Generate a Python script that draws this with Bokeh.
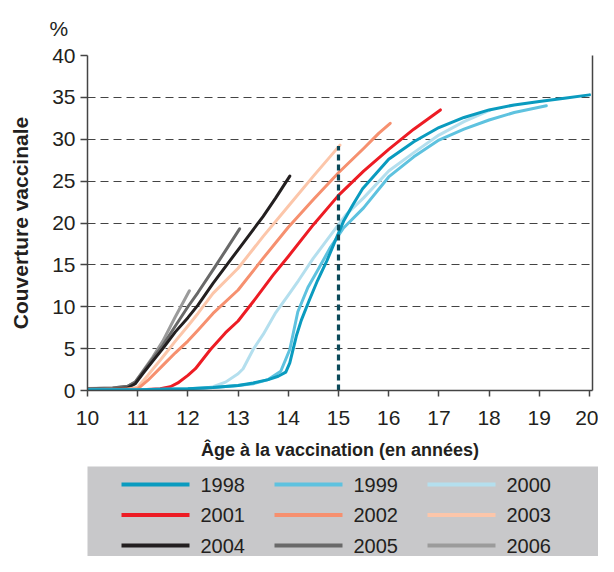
from bokeh.plotting import figure
from bokeh.models import LinearAxis, Title, Range1d, FixedTicker, Spacer
from bokeh.layouts import column, row
from bokeh.embed import file_html
from bokeh.resources import INLINE
from bokeh.core.properties import value

# ---------------- data ----------------
years = ["1998", "1999", "2000", "2001", "2002", "2003", "2004", "2005", "2006"]
colors = ["#0a9bbf", "#5ec2df", "#b4dfee", "#ed1c24", "#f6906f",
          "#fcc6aa", "#231f20", "#696969", "#9b9b9b"]

age_1998 = [10, 11, 12, 12.5, 13.0, 13.3, 13.6, 13.8, 13.95, 14.03, 14.16, 14.26, 14.42,
            14.58, 14.77, 14.93, 15.1, 15.29, 15.48, 16.0, 16.5, 17.0, 17.5, 18.0, 18.5,
            19.0, 19.5, 20.0]
cov_1998 = [0.1, 0.1, 0.2, 0.35, 0.6, 0.9, 1.3, 1.7, 2.2, 3.3, 6.5, 8.4, 10.8,
            13.1, 15.5, 17.8, 20.2, 22.2, 24.1, 27.6, 29.7, 31.4, 32.6, 33.5, 34.1,
            34.5, 34.9, 35.3]

age_1999 = [10, 11, 12, 12.5, 13.0, 13.3, 13.6, 13.85, 14.03, 14.19, 14.39, 14.58,
            14.84, 15.1, 15.5, 16.0, 16.5, 17.0, 17.5, 18.0, 18.5, 19.14]
cov_1999 = [0.1, 0.1, 0.2, 0.35, 0.6, 0.8, 1.3, 2.3, 4.9, 9.4, 12.3, 14.3,
            17.1, 19.4, 21.8, 25.5, 27.9, 29.9, 31.2, 32.3, 33.2, 34.0]

age_2000 = [10, 12.0, 12.3, 12.5, 12.75, 13.0, 13.1, 13.3, 13.5, 13.75, 14.0, 14.2,
            14.5, 14.85, 15.15, 15.5, 16.0, 16.5, 17.0, 17.5, 18.03]
cov_2000 = [0.0, 0.1, 0.25, 0.45, 1.0, 2.0, 2.6, 4.9, 6.7, 9.3, 11.4, 13.1,
            15.8, 18.6, 21.0, 23.0, 26.2, 28.4, 30.5, 32.1, 33.5]

age_2001 = [10, 11.0, 11.45, 11.65, 11.8, 12.0, 12.15, 12.45, 12.75, 13.0, 13.35, 13.7,
            14.0, 14.5, 15.0, 15.5, 16.0, 16.5, 17.03]
cov_2001 = [0.0, 0.05, 0.2, 0.45, 0.9, 1.8, 2.6, 4.9, 6.9, 8.3, 11.0, 13.8,
            16.0, 19.8, 23.3, 26.2, 28.8, 31.2, 33.5]

age_2002 = [10, 11.0, 11.2, 11.5, 11.75, 12.0, 12.2, 12.5, 13.0, 13.5, 14.0, 14.5,
            15.0, 15.5, 15.8, 16.03]
cov_2002 = [0.1, 0.2, 1.2, 3.0, 4.5, 5.9, 7.2, 9.2, 12.0, 15.8, 19.5, 22.8,
            26.0, 28.9, 30.7, 31.9]

age_2003 = [10, 10.8, 11.0, 11.2, 11.5, 11.75, 12.0, 12.2, 12.5, 13.0, 13.5, 14.0,
            14.5, 15.03]
cov_2003 = [0.1, 0.15, 0.4, 1.8, 4.0, 5.9, 7.7, 9.2, 11.6, 14.6, 18.4, 22.0,
            25.6, 29.3]

age_2004 = [10, 10.5, 10.8, 10.95, 11.1, 11.3, 11.5, 11.75, 12.0, 12.2, 12.5, 13.0,
            13.5, 13.75, 14.03]
cov_2004 = [0.1, 0.15, 0.3, 0.8, 2.0, 3.5, 5.0, 7.0, 8.7, 10.2, 12.8, 16.8,
            20.8, 23.0, 25.6]

age_2005 = [10, 10.5, 10.8, 10.95, 11.1, 11.3, 11.5, 11.75, 12.0, 12.2, 12.5, 12.75, 13.03]
cov_2005 = [0.2, 0.3, 0.5, 1.0, 2.2, 3.8, 5.4, 7.7, 10.0, 11.7, 14.4, 16.7, 19.3]

age_2006 = [10, 10.5, 10.8, 10.95, 11.1, 11.3, 11.5, 11.75, 12.03]
cov_2006 = [0.25, 0.3, 0.5, 1.0, 2.3, 4.0, 5.9, 8.8, 11.9]

ages = [age_1998, age_1999, age_2000, age_2001, age_2002, age_2003, age_2004, age_2005, age_2006]
covs = [cov_1998, cov_1999, cov_2000, cov_2001, cov_2002, cov_2003, cov_2004, cov_2005, cov_2006]

x_ticks = list(range(10, 21))
y_ticks = list(range(0, 41, 5))
marker_age = 15
marker_top = 29.2

x_title = "Âge à la vaccination (en années)"
y_title = "Couverture vaccinale"
unit_text = "%"

# ---------------- style ----------------
FONT = "'Liberation Sans', Arial, sans-serif"
TXT = "#231f20"
AX = "#444444"

p = figure(width=598, height=466, x_range=Range1d(10, 20.06), y_range=Range1d(0, 40),
           output_backend="svg", toolbar_location=None,
           min_border_left=87, min_border_right=6, min_border_top=55, min_border_bottom=76)
p.outline_line_color = None
p.xgrid.grid_line_color = None
p.ygrid.ticker = FixedTicker(ticks=y_ticks)
p.ygrid.grid_line_color = "#444444"
p.ygrid.grid_line_dash = "8 5"
p.ygrid.grid_line_width = 1.2

p.xaxis.ticker = FixedTicker(ticks=x_ticks)
p.yaxis.ticker = FixedTicker(ticks=y_ticks)
for ax in (p.xaxis[0], p.yaxis[0]):
    ax.axis_line_color = AX
    ax.axis_line_width = 1.5
    ax.major_tick_line_color = AX
    ax.major_tick_line_width = 1.5
    ax.major_tick_in = 0
    ax.minor_tick_line_color = None
    ax.major_label_text_font = FONT
    ax.major_label_text_font_size = "21px"
    ax.major_label_text_color = TXT
    ax.axis_label_text_font = FONT
    ax.axis_label_text_font_style = "bold"
    ax.axis_label_text_color = TXT

p.yaxis.major_tick_out = 7
p.yaxis.major_label_standoff = 5
p.yaxis.axis_label = y_title
p.yaxis.axis_label_text_font_size = "21px"
p.yaxis.axis_label_standoff = 17
p.xaxis.major_tick_out = 6
p.xaxis.major_label_standoff = 14
p.xaxis.axis_label = x_title
p.xaxis.axis_label_text_font_size = "18px"
p.xaxis.axis_label_standoff = 12

right = LinearAxis(ticker=FixedTicker(ticks=[]), axis_line_color=AX, axis_line_width=1.5,
                   major_tick_line_color=None, minor_tick_line_color=None,
                   major_label_text_font_size="0px", major_label_standoff=0)
p.add_layout(right, "right")

p.add_layout(Title(text=unit_text, align="left", offset=-38, standoff=27,
                   vertical_align="top",
                   text_font=FONT, text_font_size="21px", text_color=TXT,
                   text_font_style="normal"), "above")

for i in reversed(range(len(years))):
    p.line(ages[i], covs[i], line_color=colors[i], line_width=3,
           line_join="round", line_cap="round")

p.segment(x0=[marker_age], y0=[0], x1=[marker_age], y1=[marker_top],
          line_color="#0c4a5a", line_width=3.2, line_dash="6 4")

# ---------------- legend panel ----------------
LG_W, LG_H = 511, 90
lg = figure(width=LG_W, height=LG_H, x_range=Range1d(0, LG_W), y_range=Range1d(LG_H, 0),
            output_backend="svg", toolbar_location=None, min_border=0,
            x_axis_type=None, y_axis_type=None)
lg.grid.grid_line_color = None
lg.outline_line_color = None
lg.background_fill_color = "#c8c8ca"
lg.border_fill_color = "#c8c8ca"

col_pitch, row_pitch = 153, 30.5
gx0, glen, tx0, ry0 = 34, 68, 113, 18
for i, yr in enumerate(years):
    c, r = i % 3, i // 3
    xs = gx0 + c * col_pitch
    ys = ry0 + r * row_pitch
    lg.segment(x0=[xs], y0=[ys], x1=[xs + glen], y1=[ys], line_color=colors[i], line_width=4)
    lg.text(x=[tx0 + c * col_pitch], y=[ys], text=[yr], text_font=value(FONT),
            text_font_size="20px", text_color=TXT, text_baseline="middle", text_align="left")

layout = column(p, row(Spacer(width=87, height=LG_H), lg))
open("out.html", "w").write(file_html(layout, INLINE))
